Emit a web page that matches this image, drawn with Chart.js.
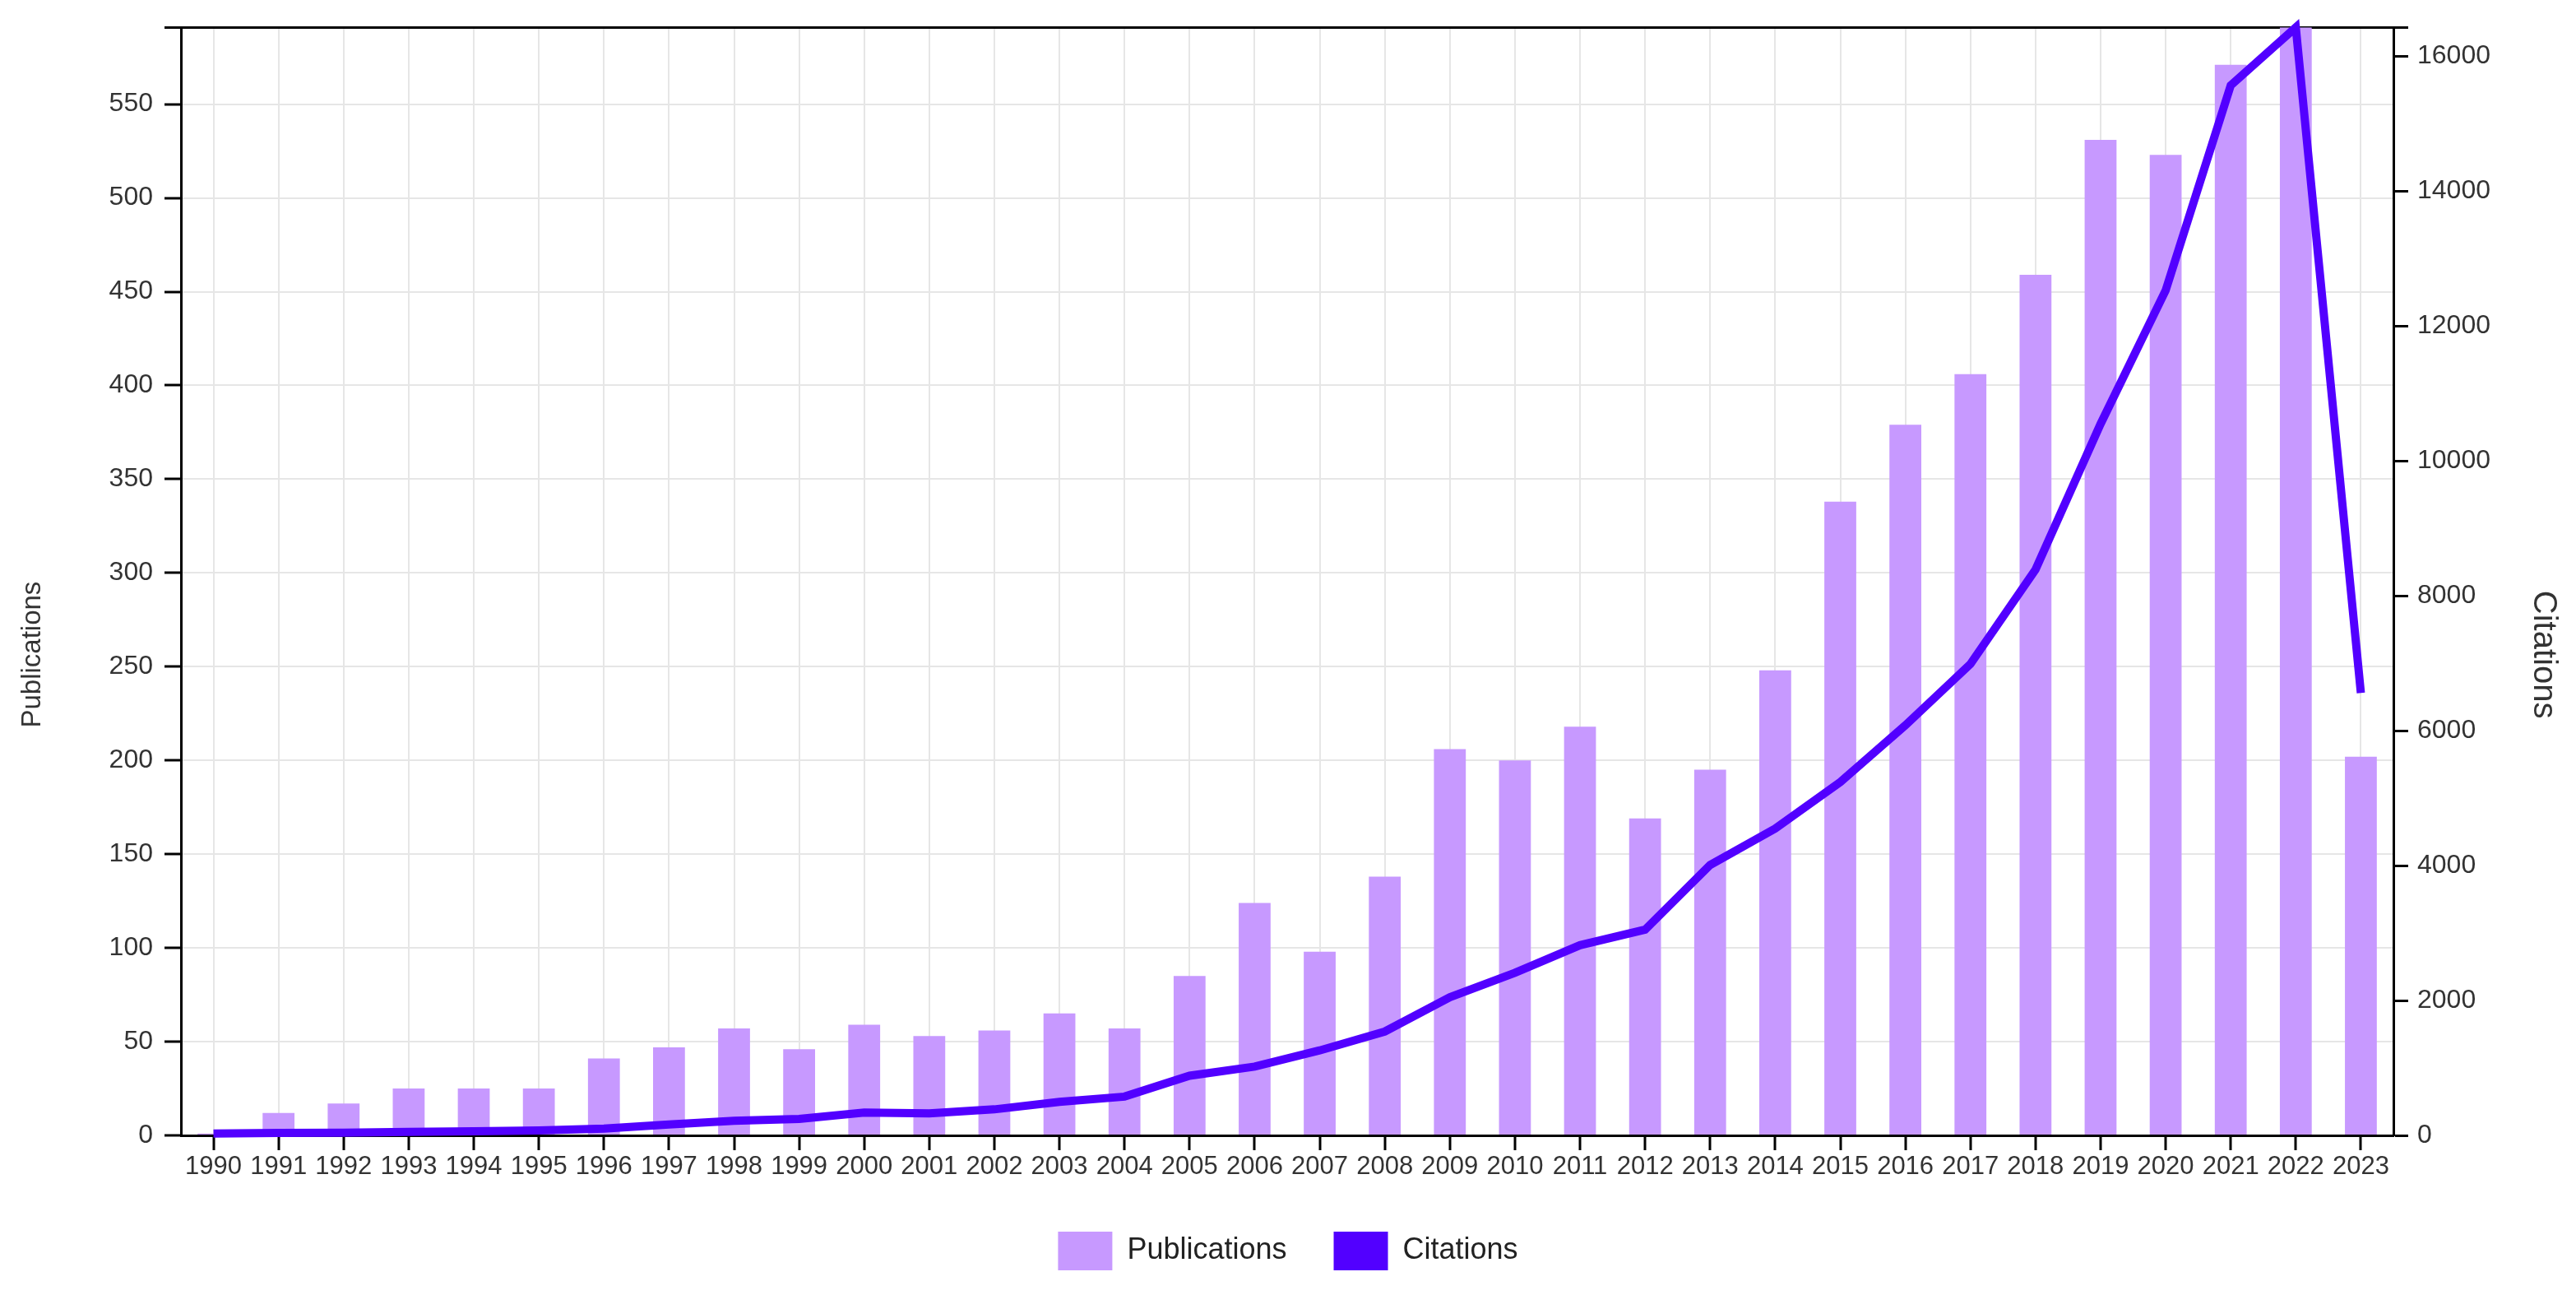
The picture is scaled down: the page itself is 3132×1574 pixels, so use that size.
<!DOCTYPE html>
<html>
<head>
<meta charset="utf-8">
<script src="https://cdn.jsdelivr.net/npm/chart.js@4.4.1/dist/chart.umd.min.js"></script>
<style>
  html, body { margin: 0; padding: 0; background: #fff; }
  canvas { display: block; }
</style>
</head>
<body>
<canvas id="myChart" width="3132" height="1574"></canvas>
<script>
// data
const years = ["1990","1991","1992","1993","1994","1995","1996","1997","1998","1999",
               "2000","2001","2002","2003","2004","2005","2006","2007","2008","2009",
               "2010","2011","2012","2013","2014","2015","2016","2017","2018","2019",
               "2020","2021","2022","2023"];
const publications = [1, 12, 17, 25, 25, 25, 41, 47, 57, 46,
                      59, 53, 56, 65, 57, 85, 124, 98, 138, 206,
                      200, 218, 169, 195, 248, 338, 379, 406, 459, 531,
                      523, 571, 591, 202];
const citations = [28, 37, 40, 52, 61, 73, 100, 162, 216, 244,
                   338, 325, 386, 496, 575, 885, 1020, 1260, 1540, 2050,
                   2410, 2820, 3050, 4010, 4550, 5240, 6080, 6990, 8390, 10550,
                   12530, 15570, 16430, 6560];
const pubTicks = [0, 50, 100, 150, 200, 250, 300, 350, 400, 450, 500, 550];
const citeTicks = [0, 2000, 4000, 6000, 8000, 10000, 12000, 14000, 16000];

const pubMax = Math.max(...publications);
const citeMax = Math.max(...citations);

const FONT = "'Liberation Sans', Arial, sans-serif";

// axis titles, drawn a bit below the middle like in the picture
const axisTitles = {
  id: 'axisTitles',
  afterDraw(chart) {
    const {ctx, chartArea, scales} = chart;
    const midY = (chartArea.top + chartArea.bottom) / 2 + 89;
    ctx.save();
    ctx.fillStyle = '#333';
    ctx.textAlign = 'center';
    ctx.textBaseline = 'middle';
    ctx.font = "33px " + FONT;
    ctx.translate(scales.y.left + 40, midY);
    ctx.rotate(-Math.PI / 2);
    ctx.fillText('Publications', 0, 0);
    ctx.restore();
    ctx.save();
    ctx.fillStyle = '#333';
    ctx.textAlign = 'center';
    ctx.textBaseline = 'middle';
    ctx.font = "40px " + FONT;
    ctx.translate(scales.y1.right - 40, midY);
    ctx.rotate(Math.PI / 2);
    ctx.fillText('Citations', 0, 0);
    ctx.restore();
  }
};

function renderGrafica() {
    const datasets = [
        {
            type: 'bar',
            label: 'Publications',
            data: publications,
            backgroundColor: '#c799ff',
            borderWidth: 0,
            barPercentage: 0.49,
            categoryPercentage: 1,
            yAxisID: 'y',
            order: 1
        },
        {
            type: 'line',
            label: 'Citations',
            data: citations,
            borderColor: '#5200ff',
            backgroundColor: '#5200ff',
            borderWidth: 10,
            pointRadius: 0,
            tension: 0,
            clip: false,
            yAxisID: 'y1',
            order: 0
        }
    ];

    const config = {
        type: 'bar',
        data: { labels: years, datasets },
        options: {
            responsive: false,
            devicePixelRatio: 1,
            animation: false,
            layout: { padding: { top: 33, bottom: 20, left: 0, right: 0 } },
            plugins: {
                tooltip: { enabled: false },
                legend: {
                    position: 'bottom',
                    labels: {
                        font: { family: FONT, size: 36 },
                        color: '#222',
                        boxWidth: 66,
                        boxHeight: 47,
                        padding: 57,
                        sort: (a, b) => a.datasetIndex - b.datasetIndex,
                        generateLabels: (chart) =>
                            Chart.defaults.plugins.legend.labels.generateLabels(chart)
                                .map(l => ({ ...l, lineWidth: 0 }))
                    }
                }
            },
            scales: {
                x: {
                    offset: true,
                    grid: {
                        offset: false,
                        color: '#e6e6e6',
                        lineWidth: 2,
                        tickColor: '#000',
                        tickWidth: 3,
                        tickLength: 18
                    },
                    border: { color: '#000', width: 3 },
                    ticks: {
                        font: { family: FONT, size: 31 },
                        color: '#333',
                        padding: 2,
                        autoSkip: false,
                        maxRotation: 0
                    },
                    afterFit(scale) { scale.height = 60; }
                },
                y: {
                    position: 'left',
                    min: 0,
                    max: pubMax,
                    afterBuildTicks(scale) {
                        scale.ticks = pubTicks.concat([pubMax]).map(v => ({ value: v }));
                    },
                    grid: {
                        color: (c) => (c.tick && c.tick.value === pubMax) ? '#000' : '#e6e6e6',
                        lineWidth: (c) => (c.tick && c.tick.value === pubMax) ? 3 : 2,
                        tickColor: '#000',
                        tickWidth: 3,
                        tickLength: 20
                    },
                    border: { color: '#000', width: 3 },
                    ticks: {
                        font: { family: FONT, size: 32 },
                        color: '#333',
                        padding: 14,
                        callback: (v) => v === pubMax ? '' : v
                    },
                    afterFit(scale) { scale.width = 220; }
                },
                y1: {
                    position: 'right',
                    min: 0,
                    max: citeMax,
                    afterBuildTicks(scale) {
                        scale.ticks = citeTicks.concat([citeMax]).map(v => ({ value: v }));
                    },
                    grid: {
                        drawOnChartArea: false,
                        color: '#000',
                        tickColor: '#000',
                        tickWidth: 3,
                        tickLength: 18
                    },
                    border: { color: '#000', width: 3 },
                    ticks: {
                        font: { family: FONT, size: 32 },
                        color: '#333',
                        padding: 11,
                        callback: (v) => v === citeMax ? '' : v
                    },
                    afterFit(scale) { scale.width = 222; }
                }
            }
        },
        plugins: [axisTitles]
    };
    const myChart = document.getElementById('myChart');
    myChart.style.backgroundColor = "white";
    new Chart(myChart, config);
}

renderGrafica();
</script>
</body>
</html>
